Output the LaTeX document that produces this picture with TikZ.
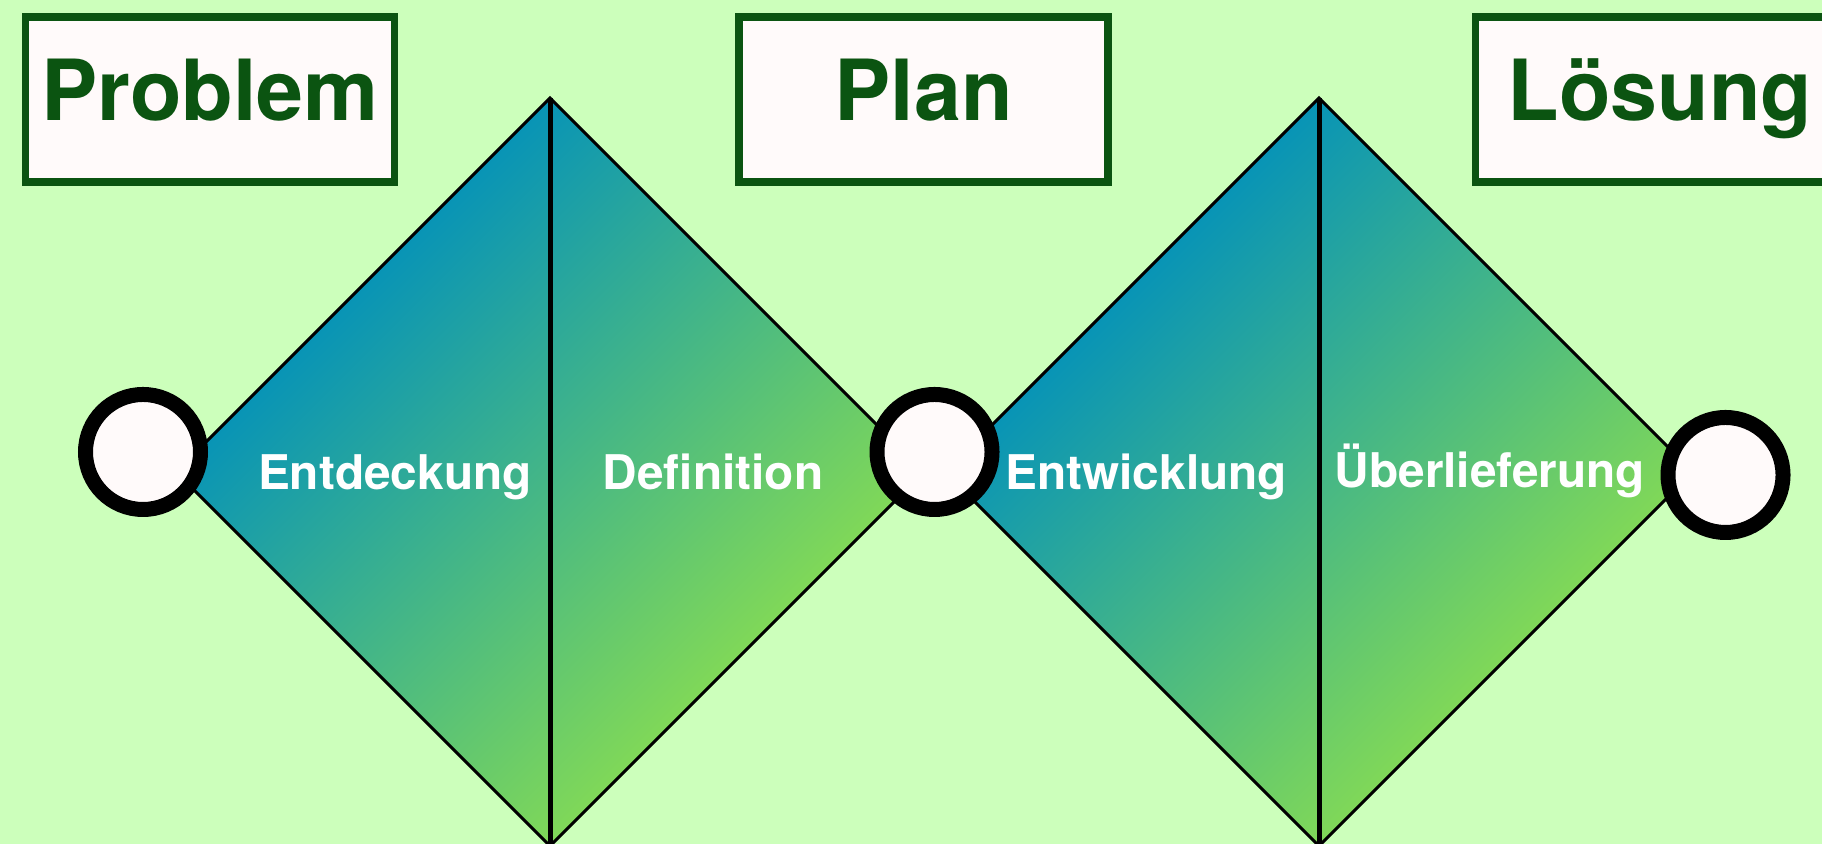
\documentclass[tikz,border=0pt]{standalone}
\usepackage{fontspec}
\setmainfont{TeX Gyre Heros}
\usepackage{tikz}

\definecolor{bggreen}{RGB}{204,255,187}
\definecolor{darkgreen}{RGB}{11,84,17}
\definecolor{snowwhite}{RGB}{255,250,250}
\definecolor{diamteal}{RGB}{8,148,182}
\definecolor{diamgreen}{RGB}{128,216,88}

\begin{document}
\begin{tikzpicture}[
    phasebox/.style={draw=darkgreen, line width=0.075cm, fill=snowwhite, text=darkgreen,
      minimum width=3.69cm, minimum height=1.65cm, inner sep=0pt,
      text height=0.62cm, text depth=0.19cm, font=\fontsize{24}{27}\selectfont\bfseries},
    phaselabel/.style={text=white, anchor=base, inner sep=0pt,
      font=\fontsize{13.6}{16}\selectfont\bfseries},
    milestone/.style={circle, draw=black, line width=0.15cm, fill=snowwhite,
      minimum size=1.15cm, inner sep=0pt},
    edge/.style={line width=0.03cm, line join=miter},
    divider/.style={line width=0.05cm}
  ]
    \useasboundingbox (0,0) rectangle (18.22,8.44);
    \fill [bggreen] (0,0) rectangle (18.22,8.44);

    % the two diamonds
    \foreach \name/\x in {disc/5.50, dev/13.19} {
      \coordinate (\name-c) at (\x,3.72);
      \coordinate (\name-t) at (\x,7.46);
      \coordinate (\name-b) at (\x,-0.02);
      \coordinate (\name-l) at (\x-3.74,3.72);
      \coordinate (\name-r) at (\x+3.74,3.72);
      \shade [left color=diamteal, right color=diamgreen,
        transform canvas={rotate around={-45:(\name-c)}}]
        (\x-2.645,3.72-2.645) rectangle (\x+2.645,3.72+2.645);
      \draw [edge] (\name-t) -- (\name-l) -- (\name-b) -- (\name-r) -- cycle;
      \draw [divider] (\name-t) -- (\name-b);
    }

    % milestones
    \node [milestone] (start) at (1.43,3.92) {};
    \node [milestone] (mid) at (9.345,3.92) {};
    \node [milestone] (finish) at (17.255,3.69) {};

    % phase boxes
    \node [phasebox] (problem) at (2.10,7.445) {Problem};
    \node [phasebox] (plan) at (9.235,7.445) {Plan};
    \node [phasebox] (solution) at (16.60,7.445) {Lösung};

    % labels
    \node [phaselabel] (discover) at (3.95,3.54) {Entdeckung};
    \node [phaselabel] (define) at (7.13,3.54) {Definition};
    \node [phaselabel] (develop) at (11.46,3.54) {Entwicklung};
    \node [phaselabel] (deliver) at (14.90,3.56) {Überlieferung};
\end{tikzpicture}
\end{document}
